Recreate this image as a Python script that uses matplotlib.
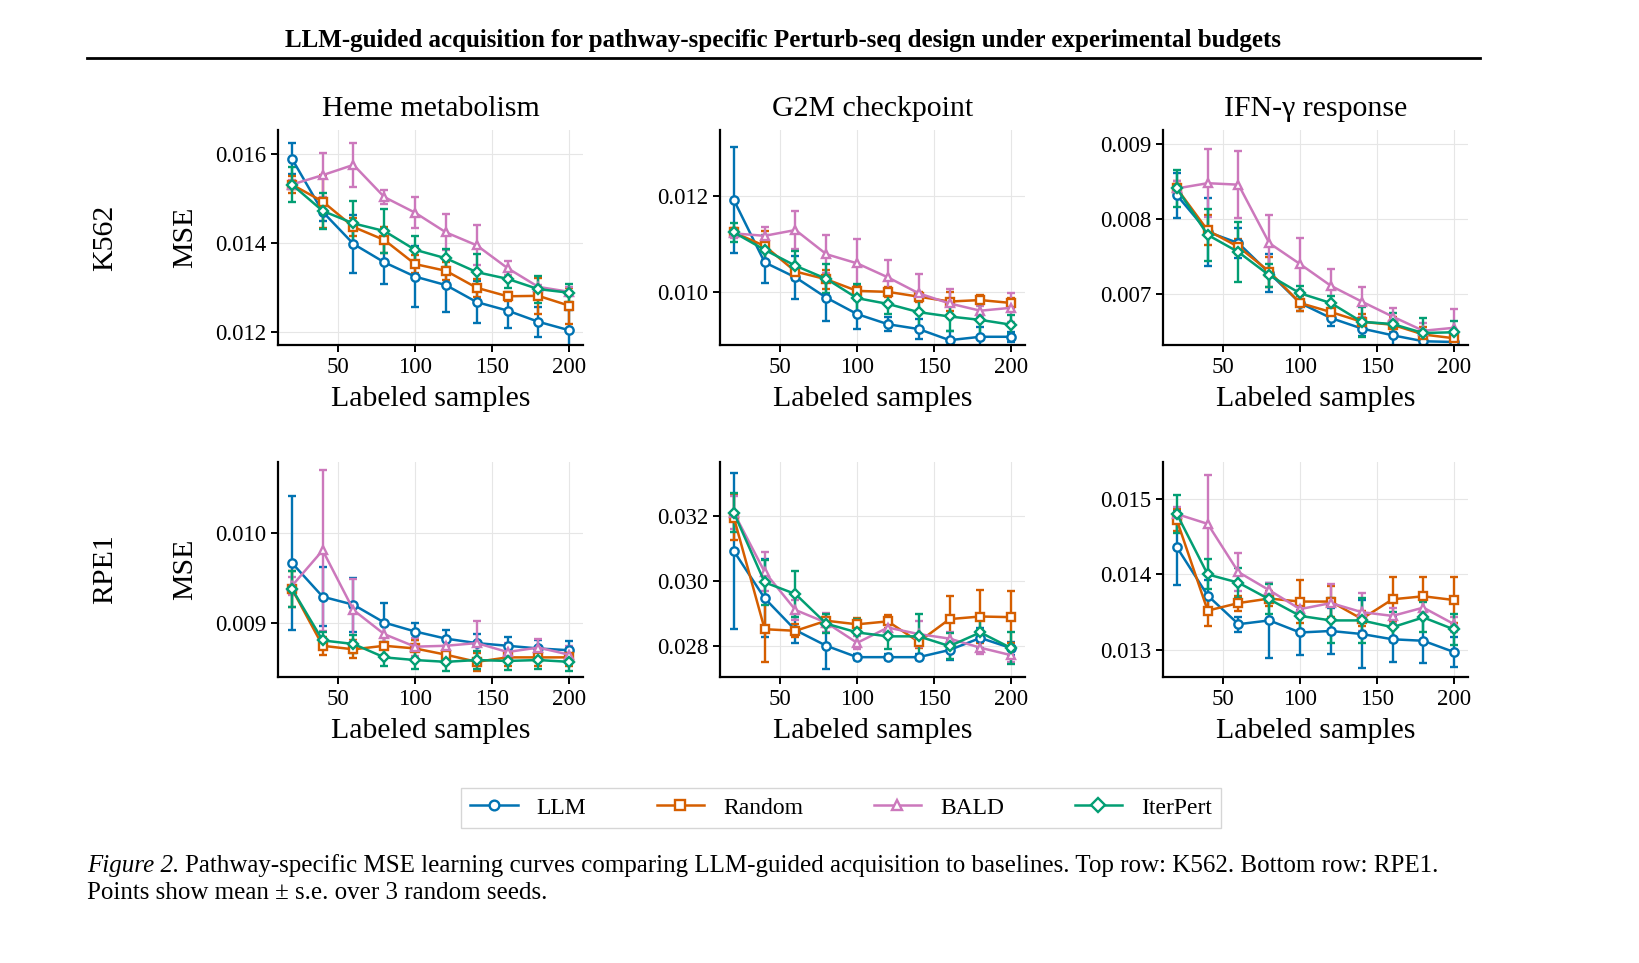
import matplotlib
matplotlib.use("Agg")
import matplotlib.pyplot as plt
from matplotlib.lines import Line2D

plt.rcParams['font.family'] = ['Liberation Serif', 'DejaVu Serif']

x = [20, 40, 60, 80, 100, 120, 140, 160, 180, 200]
methods = ["LLM", "Random", "BALD", "IterPert"]
colors = {"LLM": "#0173b2", "Random": "#d55e00", "BALD": "#cc78bc", "IterPert": "#029e73"}
markers = {"LLM": "o", "Random": "s", "BALD": "^", "IterPert": "D"}
pathways = ["Heme metabolism", "G2M checkpoint", "IFN-γ response"]
cells = ["K562", "RPE1"]

k_heme = {
 "LLM": ([0.01589,0.01470,0.01398,0.01357,0.01325,0.01306,0.01268,0.01249,0.01224,0.01205],
         [0.00035,0.0002,0.00065,0.00048,0.00068,0.0006,0.00047,0.0004,0.00033,0.00046]),
 "Random": ([0.01531,0.01493,0.01436,0.01407,0.01353,0.01338,0.01300,0.01281,0.01282,0.01260],
         [0.0002,0.0006,0.0002,0.0003,0.0002,0.0002,0.0002,0.0001,0.0004,0.0004]),
 "BALD": ([0.01531,0.01552,0.01575,0.01503,0.01468,0.01424,0.01395,0.01344,0.01302,0.01291],
         [0.0001,0.0005,0.0005,0.00015,0.00035,0.0004,0.00045,0.00015,0.00005,0.0001]),
 "IterPert": ([0.01531,0.01472,0.01444,0.01427,0.01385,0.01366,0.01335,0.01320,0.01297,0.01289],
         [0.0004,0.0004,0.0005,0.0005,0.0003,0.0002,0.0004,0.0002,0.0003,0.0002]),
}
k_g2m = {
 "LLM": ([0.01191,0.01062,0.01031,0.00989,0.00955,0.00934,0.00924,0.00901,0.00908,0.00908],
         [0.0011,0.00043,0.00045,0.00048,0.0003,0.00015,0.0002,0.00018,0.0002,0.0001]),
 "Random": ([0.01124,0.01096,0.01043,0.01027,0.01003,0.01001,0.00991,0.00981,0.00984,0.00978],
         [0.0001,0.0003,0.0001,0.0002,0.0001,0.0001,0.0001,0.0002,0.0001,0.0001]),
 "BALD": ([0.01122,0.01117,0.01129,0.01079,0.01060,0.01031,0.00998,0.00977,0.00962,0.00968],
         [0.0001,0.00018,0.0004,0.0004,0.0005,0.00035,0.0004,0.0003,0.0001,0.0003]),
 "IterPert": ([0.01124,0.01088,0.01055,0.01028,0.00988,0.00976,0.00959,0.00950,0.00943,0.00933],
         [0.0002,0.0003,0.0003,0.0003,0.0003,0.0002,0.0003,0.0003,0.0004,0.0002]),
}
k_ifn = {
 "LLM": ([0.00832,0.00783,0.00768,0.00728,0.00688,0.00668,0.00654,0.00645,0.00637,0.00636],
         [0.0003,0.00045,0.0002,0.00025,0.0001,0.0001,0.0001,0.00015,0.00015,0.0001]),
 "Random": ([0.00841,0.00785,0.00763,0.00730,0.00688,0.00676,0.00663,0.00659,0.00646,0.00641],
         [0.0001,0.0002,0.0001,0.0002,0.0001,0.0001,0.0001,0.0001,0.0001,0.0001]),
 "BALD": ([0.00841,0.00848,0.00846,0.00768,0.00740,0.00711,0.00690,0.00670,0.00651,0.00655],
         [0.0001,0.00045,0.00045,0.00038,0.00035,0.00022,0.0002,0.00012,0.0001,0.00025]),
 "IterPert": ([0.00841,0.00779,0.00756,0.00725,0.00701,0.00688,0.00663,0.00660,0.00648,0.00649],
         [0.00025,0.00035,0.0004,0.00015,0.0001,0.0001,0.0002,0.00015,0.0002,0.00015]),
}
r_heme = {
 "LLM": ([0.00967,0.00929,0.00920,0.00900,0.00890,0.00882,0.00877,0.00874,0.00871,0.00869],
         [0.00075,0.00033,0.0003,0.00022,0.0001,0.0001,0.0001,0.0001,0.0001,0.0001]),
 "Random": ([0.00938,0.00874,0.00870,0.00874,0.00871,0.00864,0.00856,0.00861,0.00861,0.00861],
         [0.0002,0.0001,0.0001,0.0001,0.0001,0.0001,0.0001,0.0001,0.0001,0.0001]),
 "BALD": ([0.00941,0.00981,0.00914,0.00887,0.00873,0.00874,0.00877,0.00867,0.00872,0.00864],
         [0.0001,0.0009,0.00035,0.0001,0.0001,0.0001,0.00025,0.0001,0.0001,0.0001]),
 "IterPert": ([0.00938,0.00880,0.00876,0.00861,0.00858,0.00856,0.00858,0.00857,0.00858,0.00856],
         [0.0002,0.0001,0.0001,0.0001,0.0001,0.0001,0.0001,0.0001,0.0001,0.0001]),
}
r_g2m = {
 "LLM": ([0.03092,0.02947,0.02849,0.02801,0.02766,0.02766,0.02766,0.02788,0.02825,0.02794],
         [0.0024,0.0012,0.0004,0.0007,0.0001,0.0001,0.0001,0.0003,0.0003,0.0002]),
 "Random": ([0.03195,0.02852,0.02847,0.02878,0.02867,0.02876,0.02813,0.02883,0.02891,0.02889],
         [0.0007,0.001,0.0002,0.0002,0.0002,0.0002,0.0002,0.0007,0.0008,0.0008]),
 "BALD": ([0.03210,0.03028,0.02911,0.02872,0.02810,0.02857,0.02837,0.02823,0.02795,0.02772],
         [0.0005,0.0006,0.0003,0.0003,0.0002,0.0002,0.0004,0.0002,0.0002,0.0002]),
 "IterPert": ([0.03210,0.02996,0.02960,0.02869,0.02842,0.02830,0.02830,0.02800,0.02842,0.02794],
         [0.0006,0.0007,0.0007,0.0003,0.0004,0.0004,0.0007,0.0004,0.0005,0.0005]),
}
r_ifn = {
 "LLM": ([0.01436,0.01372,0.01334,0.01339,0.01323,0.01325,0.01321,0.01314,0.01312,0.01297],
         [0.0005,0.0002,0.0001,0.0005,0.0003,0.0003,0.00045,0.0003,0.0003,0.0002]),
 "Random": ([0.01472,0.01352,0.01362,0.01368,0.01364,0.01364,0.01341,0.01367,0.01371,0.01366],
         [0.00015,0.0002,0.0001,0.0001,0.00028,0.0002,0.0001,0.0003,0.00025,0.0003]),
 "BALD": ([0.01480,0.01467,0.01403,0.01379,0.01354,0.01362,0.01350,0.01345,0.01356,0.01334],
         [0.0001,0.00065,0.00025,0.0001,0.0001,0.00025,0.00025,0.0001,0.0001,0.0001]),
 "IterPert": ([0.01480,0.01400,0.01389,0.01367,0.01345,0.01339,0.01339,0.01330,0.01343,0.01327],
         [0.00025,0.0002,0.0002,0.0002,0.0002,0.0003,0.0003,0.0002,0.0002,0.0002]),
}
data = [[k_heme, k_g2m, k_ifn], [r_heme, r_g2m, r_ifn]]
ylims = [[(0.01172, 0.01653), (0.00891, 0.01336), (0.00632, 0.00919)],
         [(0.00839, 0.01080), (0.02705, 0.03366), (0.01264, 0.01549)]]
yticks = [[[0.012, 0.014, 0.016], [0.010, 0.012], [0.007, 0.008, 0.009]],
          [[0.009, 0.010], [0.028, 0.030, 0.032], [0.013, 0.014, 0.015]]]

W, H = 1639, 963
fig = plt.figure(figsize=(W/100, H/100), dpi=100)
lefts = [278, 720, 1163]
tops = [130, 462]
aw, ah = 305, 215

for r in range(2):
    for c in range(3):
        ax = fig.add_axes([lefts[c]/W, 1-(tops[r]+ah)/H, aw/W, ah/H])
        d = data[r][c]
        for m in methods:
            ys, es = d[m]
            ax.errorbar(x, ys, yerr=es, color=colors[m], marker=markers[m],
                        markersize=6 if m != "IterPert" else 5.5, markerfacecolor='white',
                        markeredgewidth=1.7, lw=1.8, capsize=3, elinewidth=1.7, capthick=1.7)
        ax.set_xlim(11, 209)
        ax.set_ylim(*ylims[r][c])
        ax.set_xticks([50, 100, 150, 200])
        ax.set_yticks(yticks[r][c])
        ax.set_yticklabels([f"{v:.3f}" for v in yticks[r][c]])
        ax.grid(True, color='#e6e6e6', lw=0.8)
        ax.set_axisbelow(True)
        for s in ['top', 'right']:
            ax.spines[s].set_visible(False)
        for s in ['left', 'bottom']:
            ax.spines[s].set_linewidth(1.6)
        ax.tick_params(labelsize=16.5, width=1.4, length=5)
        ax.set_xlabel("Labeled samples", fontsize=21.5, labelpad=6)
        if r == 0:
            ax.set_title(pathways[c], fontsize=21.5, pad=10)
        if c == 0:
            ax.set_ylabel("MSE", fontsize=21.5, labelpad=12)
            fig.text(105/W, 1-(tops[r]+ah/2)/H, cells[r], rotation=90, fontsize=21.5,
                     ha='center', va='center')

fig.text(783/W, 1-40/H, "LLM-guided acquisition for pathway-specific Perturb-seq design under experimental budgets",
         fontsize=18, fontweight='bold', ha='center', va='center')
fig.add_artist(Line2D([87/W, 1480/W], [1-58/H, 1-58/H], color='black', lw=2))

handles = [Line2D([], [], color=colors[m], marker=markers[m], markerfacecolor='white',
                  markeredgewidth=1.7, lw=1.8, markersize=7) for m in methods]
fig.legend(handles, methods, loc='center', bbox_to_anchor=(841/W, 1-808/H), ncol=4,
           fontsize=17, frameon=True, edgecolor='#cccccc', handlelength=2.0,
           columnspacing=3.0, fancybox=False)

t1 = fig.text(87/W, 1-866/H, "Figure 2.", fontsize=18, style='italic', ha='left', va='center')
fig.canvas.draw()
bb = t1.get_window_extent()
fig.text((bb.x1 + 6)/W, 1-866/H,
         "Pathway-specific MSE learning curves comparing LLM-guided acquisition to baselines. Top row: K562. Bottom row: RPE1.",
         fontsize=18, ha='left', va='center')
fig.text(87/W, 1-893/H, "Points show mean ± s.e. over 3 random seeds.", fontsize=18, ha='left', va='center')

fig.savefig("out.png", dpi=100)
